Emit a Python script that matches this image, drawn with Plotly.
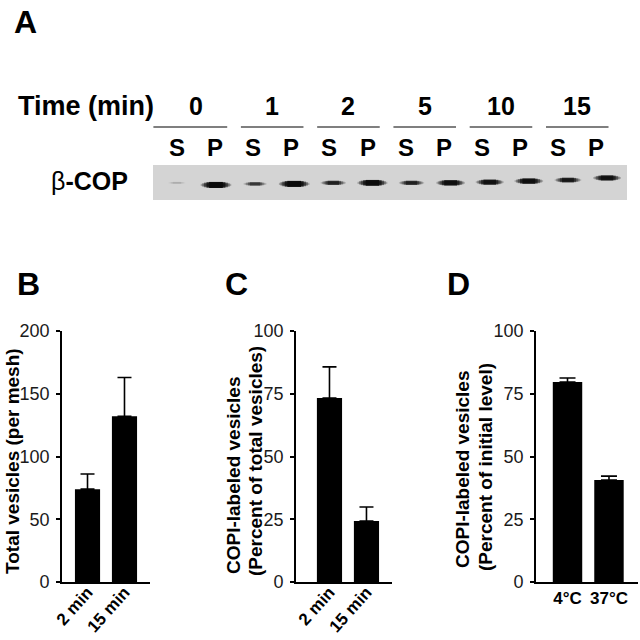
import plotly.graph_objects as go

FONT = "Arial, Liberation Sans, sans-serif"

# panel A - beta-COP blot, supernatant (S) / pellet (P) at each time point
times = ["0", "1", "2", "5", "10", "15"]
fractions = ["S", "P"]
band_density = [0.08, 1.0, 0.45, 1.0, 0.6, 0.95, 0.6, 0.85, 0.8, 0.85, 0.7, 0.8]
band_migration = [0.49, 0.43, 0.46, 0.46, 0.49, 0.49, 0.49, 0.49, 0.51, 0.54, 0.57, 0.63]

# panel B - total vesicles
b_labels = ["2 min", "15 min"]
b_values = [74, 132]
b_err = [12, 31]

# panel C - COPI-labeled vesicles, % of total
c_labels = ["2 min", "15 min"]
c_values = [73.3, 24.3]
c_err = [12.4, 5.6]

# panel D - COPI-labeled vesicles, % of initial level
d_labels = ["4°C", "37°C"]
d_values = [79.7, 40.6]
d_err = [1.6, 1.6]


def px(x):
    return x / 640


def py(y):
    return 1 - y / 640


fig = go.Figure()


def add_bars(labels, values, err, ax, width, capw):
    fig.add_trace(go.Bar(
        x=labels, y=values, width=width,
        marker=dict(color="black", line=dict(width=0)),
        error_y=dict(type="data", array=err, arrayminus=[0] * len(err), symmetric=False,
                     color="black", thickness=1.6, width=capw),
        xaxis="x" + ax, yaxis="y" + ax, showlegend=False,
    ))


add_bars(b_labels, b_values, b_err, "", 0.68, 7)
add_bars(c_labels, c_values, c_err, "2", 0.68, 7)
add_bars(d_labels, d_values, d_err, "3", 0.71, 8)

# blot bands, built up from stacked strokes so they look like soft ellipses
lanes = list(range(len(band_density)))
layers = [(1.0, 0.4, 0.25), (0.9, 0.65, 0.35), (0.78, 0.85, 0.5), (0.62, 1.0, 0.75), (0.45, 1.1, 0.95)]
for i, d in zip(lanes, band_density):
    for frac_len, frac_w, a in layers:
        half = (0.22 + 0.17 * d) * frac_len
        lw = (1.5 + 4.0 * d) * frac_w
        alpha = min(1.0, d * a)
        fig.add_trace(go.Scatter(
            x=[i - half, i + half], y=[band_migration[i]] * 2, mode="lines",
            line=dict(color=f"rgba(10,10,10,{alpha:.2f})", width=lw),
            xaxis="x4", yaxis="y4", showlegend=False, hoverinfo="skip",
        ))

ydom = [py(582), py(331)]
yax = dict(showline=True, linecolor="black", linewidth=1.6, ticks="outside", ticklen=4,
           tickwidth=1.6, tickcolor="black", showgrid=False, zeroline=False, automargin=False,
           tickfont=dict(family=FONT, size=18, color="#1a1a1a"), ticklabelstandoff=3,
           domain=ydom, fixedrange=True)
xax = dict(showline=True, linecolor="black", linewidth=1.6, ticks="", showgrid=False,
           zeroline=False, type="category", automargin=False, fixedrange=True,
           tickfont=dict(family=FONT, size=17, color="black", weight="bold"))

fig.update_layout(
    template="none",
    width=640, height=640,
    margin=dict(l=0, r=0, t=0, b=0, pad=0),
    paper_bgcolor="white", plot_bgcolor="rgba(0,0,0,0)",
    showlegend=False,
    xaxis=dict(xax, domain=[px(62), px(150)], range=[-0.69, 1.69], tickangle=-48,
               ticklabelstandoff=-8, anchor="y"),
    yaxis=dict(yax, range=[0, 200], tickvals=[0, 50, 100, 150, 200], anchor="x"),
    xaxis2=dict(xax, domain=[px(296), px(392)], range=[-0.905, 1.69], tickangle=-48,
                ticklabelstandoff=-8, anchor="y2"),
    yaxis2=dict(yax, range=[0, 100], tickvals=[0, 25, 50, 75, 100], anchor="x2"),
    xaxis3=dict(xax, domain=[px(536), px(638)], range=[-0.76, 1.70], tickangle=0, anchor="y3"),
    yaxis3=dict(yax, range=[0, 100], tickvals=[0, 25, 50, 75, 100], anchor="x3"),
    xaxis4=dict(domain=[px(153), px(627)], range=[-0.61, 11.51], visible=False, anchor="y4",
                fixedrange=True, automargin=False),
    yaxis4=dict(domain=[py(200), py(165)], range=[0, 1], visible=False, anchor="x4",
                fixedrange=True, automargin=False),
)

# gel background
fig.add_shape(type="rect", xref="x4 domain", yref="y4 domain", x0=0, x1=1, y0=0, y1=1,
              fillcolor="#d4d4d4", line=dict(width=0), layer="below")

ann = []


def txt(text, x, y, size, xref="paper", xanchor="center", yanchor="middle", angle=0, bold=True):
    ann.append(dict(text=f"<b>{text}</b>" if bold else text, x=x, y=y, xref=xref, yref="paper",
                    xanchor=xanchor, yanchor=yanchor, textangle=angle, showarrow=False,
                    font=dict(family=FONT, size=size, color="black")))


# panel letters
txt("A", px(12), py(22), 32, xanchor="left")
txt("B", px(15), py(284), 32, xanchor="left")
txt("C", px(223), py(284), 32, xanchor="left")
txt("D", px(445), py(284), 32, xanchor="left")

# blot header (the lettering above the gel is set a little tighter than the lanes)
HEAD = 0.975
txt("Time (min)", px(16), py(106), 27, xanchor="left")
for k, t in enumerate(times):
    c = (2 * k + 0.5) * HEAD
    txt(t, c, py(106), 25, xref="x4")
    x0 = -0.6 if k == 0 else c - 0.8
    fig.add_shape(type="line", xref="x4", yref="paper", x0=x0, x1=c + 0.8,
                  y0=py(127), y1=py(127), line=dict(color="black", width=1.2))
for i in lanes:
    txt(fractions[i % 2], i * HEAD, py(147), 24, xref="x4")
txt("β<b>-COP</b>", px(130), py(181), 25, xanchor="right", bold=False)

# axis titles
txt("Total vesicles (per mesh)", px(12), py(576), 19, yanchor="bottom", angle=-90)
txt("COPI-labeled vesicles", px(233), py(576), 19, yanchor="bottom", angle=-90)
txt("(Percent of total vesicles)", px(255), py(578), 19, yanchor="bottom", angle=-90)
txt("COPI-labeled vesicles", px(462), py(570), 19, yanchor="bottom", angle=-90)
txt("(Percent of initial level)", px(485), py(573), 19, yanchor="bottom", angle=-90)

fig.update_layout(annotations=ann)

fig.write_html("out.html", config={"displayModeBar": False},
               post_script="document.body.style.margin='0';")
